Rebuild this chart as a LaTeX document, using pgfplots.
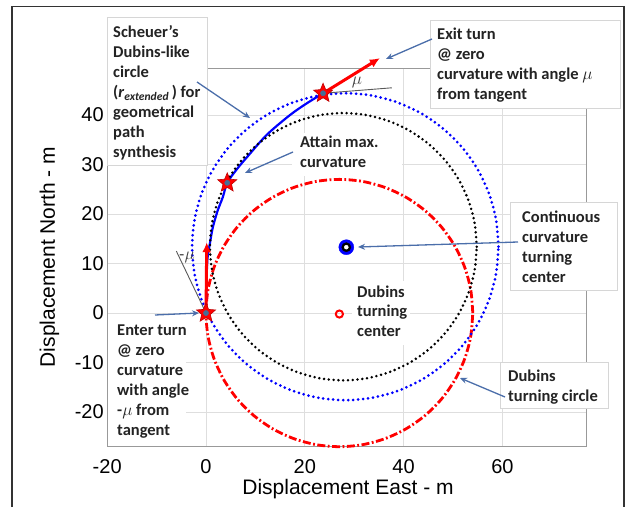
\documentclass[border=0pt]{standalone}
\usepackage{fontspec}
\setmainfont{Liberation Sans}
\newfontfamily\annfontfam{Carlito}
\usepackage{pgfplots}
\pgfplotsset{compat=1.18}
\usetikzlibrary{arrows.meta}

\definecolor{annblue}{RGB}{75,110,170}
\definecolor{ctr}{RGB}{70,110,150}
\definecolor{myblue}{RGB}{0,0,255}
\definecolor{myred}{RGB}{255,0,0}
\definecolor{anntext}{RGB}{35,35,35}

\pgfdeclareplotmark{fstar}{%
  \pgfpathmoveto{\pgfpointpolar{90}{\pgfplotmarksize}}%
  \pgfpathlineto{\pgfpointpolar{126}{0.45*\pgfplotmarksize}}%
  \pgfpathlineto{\pgfpointpolar{162}{\pgfplotmarksize}}%
  \pgfpathlineto{\pgfpointpolar{198}{0.45*\pgfplotmarksize}}%
  \pgfpathlineto{\pgfpointpolar{234}{\pgfplotmarksize}}%
  \pgfpathlineto{\pgfpointpolar{270}{0.45*\pgfplotmarksize}}%
  \pgfpathlineto{\pgfpointpolar{306}{\pgfplotmarksize}}%
  \pgfpathlineto{\pgfpointpolar{342}{0.45*\pgfplotmarksize}}%
  \pgfpathlineto{\pgfpointpolar{18}{\pgfplotmarksize}}%
  \pgfpathlineto{\pgfpointpolar{54}{0.45*\pgfplotmarksize}}%
  \pgfpathclose
  \pgfusepathqfillstroke
}

\newcommand{\annfont}{\annfontfam\bfseries\fontsize{16.5}{20}\selectfont}
\newcommand{\ann}[3]{\node[anchor=base west, inner sep=0pt, font=\annfont, text=anntext] at (#1,#2) {#3};}

\begin{document}
\begin{tikzpicture}
\useasboundingbox (0,0) rectangle (629pt,507pt);
\begin{axis}[
  at={(107.2pt,60.3pt)}, anchor=south west,
  scale only axis, width=479.2pt, height=378.7pt,
  xmin=-20, xmax=77, ymin=-27, ymax=49.5,
  xtick={-20,0,20,40,60}, ytick={-20,-10,0,10,20,30,40},
  grid=major, major grid style={draw=black!13, line width=0.9pt},
  axis line style={draw=black!40, line width=0.8pt},
  major tick length=0pt,
  tick label style={font=\fontsize{20}{20}\selectfont},
  /pgf/number format/assume math mode=true,
  xticklabel style={anchor=center, yshift=-20.3pt},
  xlabel={Displacement East - m},
  ylabel={Displacement North - m},
  xlabel style={at={(axis description cs:0.5025,-0.113)}, anchor=center, font=\fontsize{21}{21}\selectfont},
  ylabel style={at={(axis description cs:-0.1204,0.501)}, anchor=center, font=\fontsize{21}{21}\selectfont},
  clip=false,
]
% annotation backgrounds
\fill[white, draw=black!16, line width=0.8pt] (axis cs:-20.04,59.8) rectangle (axis cs:0.2,29.9);
\fill[white, draw=black!16, line width=0.8pt] (axis cs:45.34,59.2) rectangle (axis cs:83.8,41.4);
\fill[white, draw=black!16, line width=0.8pt] (axis cs:61.54,22.4) rectangle (axis cs:83.2,4.65);
\fill[white, draw=black!16, line width=0.8pt] (axis cs:59.5,-9.9) rectangle (axis cs:81.4,-19.2);
\fill[white] (axis cs:-19.8,-1.41) rectangle (axis cs:-4.05,-26.9);
\fill[white] (axis cs:17.4,36.4) rectangle (axis cs:39.7,27.7);
\fill[white] (axis cs:29.55,6.46) rectangle (axis cs:41.3,-6.46);

% Dubins turning circle
\addplot[myred, line width=2.8pt, dash pattern=on 8pt off 2.5pt on 1.8pt off 2.5pt, smooth] coordinates {
(54,0) (53.59,4.69) (52.37,9.23) (50.38,13.5) (47.68,17.36) (44.36,20.68) (40.5,23.38) (36.23,25.37) (31.69,26.59) (27,27)
(22.31,26.59) (17.77,25.37) (13.5,23.38) (9.64,20.68) (6.32,17.36) (3.62,13.5) (1.63,9.23) (0.41,4.69) (0,0)
(0.41,-4.69) (1.63,-9.23) (3.62,-13.5) (6.32,-17.36) (9.64,-20.68) (13.5,-23.38) (17.77,-25.37) (22.31,-26.59) (27,-27)
(31.69,-26.59) (36.23,-25.37) (40.5,-23.38) (44.36,-20.68) (47.68,-17.36) (50.38,-13.5) (52.37,-9.23) (53.59,-4.69) (54,0)};

% Scheuer extended circle (blue dotted)
\addplot[myblue, line width=3pt, line cap=round, dash pattern=on 0pt off 5pt, smooth] coordinates {
(59.2,13.4) (58.73,18.78) (57.33,24.0) (55.05,28.9) (51.95,33.33) (48.13,37.15) (43.7,40.25) (38.8,42.53) (33.58,43.93) (28.2,44.4)
(22.82,43.93) (17.6,42.53) (12.7,40.25) (8.27,37.15) (4.45,33.33) (1.35,28.9) (-0.93,24.0) (-2.33,18.78) (-2.8,13.4)
(-2.33,8.02) (-0.93,2.8) (1.35,-2.1) (4.45,-6.53) (8.27,-10.35) (12.7,-13.45) (17.6,-15.73) (22.82,-17.13) (28.2,-17.6)
(33.58,-17.13) (38.8,-15.73) (43.7,-13.45) (48.13,-10.35) (51.95,-6.53) (55.05,-2.1) (57.33,2.8) (58.73,8.02) (59.2,13.4)};

% continuous curvature path
\addplot[myblue, line width=2.2pt, smooth, tension=0.5] coordinates {
(0,0) (0.05,4) (0.27,10.7) (0.8,14.1) (1.4,17.4) (2.4,20.8) (3.4,23.4) (4.3,26.3) (6.2,29) (8.3,31.5) (12.3,36) (17,40) (20.3,42.3) (23.7,44.4)};

% continuous curvature circle (black dotted)
\addplot[black, line width=2.8pt, line cap=round, dash pattern=on 0pt off 4.8pt, smooth] coordinates {
(54.8,13.4) (54.39,18.09) (53.17,22.63) (51.18,26.9) (48.48,30.76) (45.16,34.08) (41.3,36.78) (37.03,38.77) (32.49,39.99) (27.8,40.4)
(23.11,39.99) (18.57,38.77) (14.3,36.78) (10.44,34.08) (7.12,30.76) (4.42,26.9) (2.43,22.63) (1.21,18.09) (0.8,13.4)
(1.21,8.71) (2.43,4.17) (4.42,-0.1) (7.12,-3.96) (10.44,-7.28) (14.3,-9.98) (18.57,-11.97) (23.11,-13.19) (27.8,-13.6)
(32.49,-13.19) (37.03,-11.97) (41.3,-9.98) (45.16,-7.28) (48.48,-3.96) (51.18,-0.1) (53.17,4.17) (54.39,8.71) (54.8,13.4)};

% tangent reference lines
\addplot[black!65, line width=0.9pt] coordinates {(0,0) (-6,12.5)};
\addplot[black!65, line width=0.9pt] coordinates {(23.7,44.4) (37.6,45.5)};

% enter / exit directions
\addplot[myred, line width=3pt, -{Latex[length=10pt,width=9pt]}] coordinates {(0,0) (0.15,14.3)};
\addplot[myred, line width=3pt, -{Latex[length=10pt,width=9pt]}] coordinates {(23.7,44.4) (35.2,51.5)};

% stars
\addplot[only marks, mark=fstar, mark size=10pt, mark options={fill=myred, draw=red!75!black, line width=0.6pt}] coordinates {(0,0) (4.3,26.3) (23.7,44.4)};
\addplot[only marks, mark=*, mark size=2.6pt, mark options={fill=ctr, draw=ctr}] coordinates {(0,0) (4.3,26.3) (23.7,44.4)};

% continuous curvature turning center
\addplot[only marks, mark=*, mark size=7.5pt, mark options={fill=myblue, draw=myblue}] coordinates {(28.4,13.3)};
\addplot[only marks, mark=*, mark size=4.6pt, mark options={fill=black, draw=black}] coordinates {(28.4,13.3)};
\addplot[only marks, mark=*, mark size=2pt, mark options={fill=white, draw=white}] coordinates {(28.4,13.3)};

% Dubins turning center
\addplot[only marks, mark=o, mark size=3.6pt, mark options={draw=myred, fill=white, line width=2pt}] coordinates {(27,-0.2)};
\end{axis}

\begin{scope}[x=1pt, y=-1pt, yshift=507pt]
\draw[black!80, line width=1.5pt] (12,507) -- (12,6.5) -- (624,6.5) -- (624,507);
\node[font=\fontsize{16}{16}\selectfont, text=black!75] at (187,257) {-$\mu$};
\node[font=\fontsize{16}{16}\selectfont, text=black!75] at (357,82) {$\mu$};

\begin{scope}[annblue, line width=1.3pt, -{Stealth[length=7pt,width=6pt]}]
\draw (197,82) -- (250,118);
\draw (293,152) -- (245,173);
\draw (432,39) -- (386,59);
\draw (518,242) -- (358,247);
\draw (505,397) -- (460,378);
\draw (155,315) -- (199,313);
\end{scope}

\ann{113}{38}{Scheuer’s}
\ann{113}{58}{Dubins-like}
\ann{113}{78}{circle}
\ann{113}{98}{(\textit{r}\textsubscript{\textit{extended}}\,) for}
\ann{113}{118}{geometrical}
\ann{113}{138}{path}
\ann{113}{158}{synthesis}

\ann{300}{148}{Attain max.}
\ann{300}{168}{curvature}

\ann{437}{40}{Exit turn}
\ann{437}{60}{@ zero}
\ann{437}{80}{curvature with angle \mdseries$\mu$}
\ann{437}{100}{from tangent}

\ann{522}{222}{Continuous}
\ann{522}{242}{curvature}
\ann{522}{262}{turning}
\ann{522}{282}{center}

\ann{357}{297}{Dubins}
\ann{357}{316.5}{turning}
\ann{357}{336}{center}

\ann{508}{381}{Dubins}
\ann{508}{401}{turning circle}

\ann{117}{335}{Enter turn}
\ann{117}{355}{@ zero}
\ann{117}{375}{curvature}
\ann{117}{395}{with angle}
\ann{117}{415}{-$\mu$ from}
\ann{117}{435}{tangent}
\end{scope}
\end{tikzpicture}
\end{document}
